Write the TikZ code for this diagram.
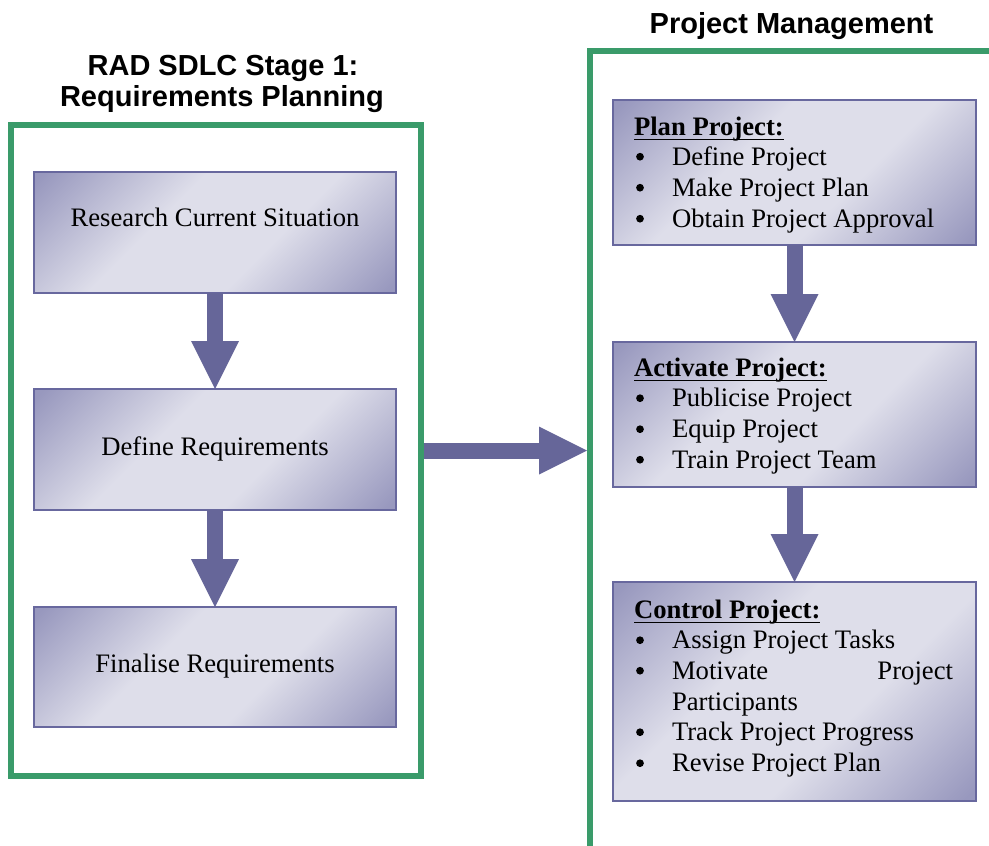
\documentclass[tikz,border=0pt]{standalone}
\usepackage{fontspec}
\setmainfont{Liberation Serif}
\newfontfamily\headfont{Liberation Sans}
\usetikzlibrary{calc}

\definecolor{framegreen}{RGB}{58,155,106}
\definecolor{arrowc}{RGB}{102,102,153}
\definecolor{boxedge}{RGB}{104,104,158}
\definecolor{boxdark}{RGB}{152,152,190}
\definecolor{boxlight}{RGB}{222,222,234}

% diagonal sheen of the step boxes: dark corners, light middle band
\pgfdeclarehorizontalshading{boxshade}{100bp}{%
  color(0bp)=(boxdark); color(16bp)=(boxdark); color(40bp)=(boxlight);
  color(60bp)=(boxlight); color(84bp)=(boxdark); color(100bp)=(boxdark)}

\tikzset{
  frame/.style={draw=framegreen, line width=4.5pt, rectangle, inner sep=0pt},
  stepbox/.style={rectangle, draw=boxedge, line width=1.4pt, shading=boxshade,
    shading angle=-45, inner sep=0pt, outer sep=0pt},
  wide/.style={stepbox, minimum width=271.5pt},
  txt/.style={inner sep=0pt, outer sep=0pt, anchor=base,
    font=\fontsize{20pt}{24pt}\selectfont},
  item/.style={txt, anchor=base west},
  dot/.style={circle, fill=black, inner sep=0pt, minimum size=5.8pt},
  head/.style={txt, anchor=base west, font=\fontsize{20pt}{24pt}\selectfont\bfseries},
  ttl/.style={inner sep=0pt, anchor=base,
    font=\headfont\bfseries\fontsize{21.75pt}{26pt}\selectfont},
  shaft/.style={draw=arrowc, line width=12pt},
  uline/.style={draw=black, line width=1.4pt}
}

% fat block arrow pointing down from one box to the next
\newcommand\fatdown[2]{%
  \draw[shaft] (#1.south) -- ($(#2.north)+(0,-47)$);
  \fill[arrowc] ($(#2.north)+(-24,-48)$) -- ($(#2.north)+(24,-48)$)
    -- (#2.north) -- cycle;}

% underline a heading node
\newcommand\headline[1]{%
  \draw[uline] ([yshift=-3.4pt]#1.base west) -- ([yshift=-3.4pt]#1.base east);}

% list bullet sitting beside the item whose baseline is #2
\newcommand\bulletat[2]{\node[dot] (#1) at (640,#2-8.3) {};}

\begin{document}
\begin{tikzpicture}[x=0.75pt, y=-0.75pt]
\path[use as bounding box] (0,0) rectangle (989,846);

% ---- left column: requirements planning ----
\node[ttl] (t1a) at (223,75) {RAD SDLC Stage 1:};
\node[ttl] (t1b) at (222,106) {Requirements Planning};
\node[frame, minimum width=307.5pt, minimum height=488.25pt] (lframe) at (215.5,450.5) {};

\node[wide, minimum height=90.75pt] (b1) at (215,232.5) {};
\node[wide, minimum height=90.75pt] (b2) at (215,449.5) {};
\node[wide, minimum height=90pt] (b3) at (215,667) {};

\node[txt] (b1t) at (215,226.7) {Research Current Situation};
\node[txt] (b2t) at (215,455) {Define Requirements};
\node[txt] (b3t) at (215,672.5) {Finalise Requirements};

\fatdown{b1}{b2}
\fatdown{b2}{b3}

% ---- right column: project management ----
\node[ttl] (t2) at (791.5,33) {Project Management};
\begin{scope}
  \clip (0,0) rectangle (989,846);
  \node[frame, minimum width=382.5pt, minimum height=598.9pt] (rframe) at (845,450.75) {};
\end{scope}

\node[stepbox, minimum width=272.25pt, minimum height=108.75pt] (p1) at (794.5,172.5) {};
\node[stepbox, minimum width=272.25pt, minimum height=108.75pt] (p2) at (794.5,414.5) {};
\node[stepbox, minimum width=272.25pt, minimum height=164.25pt] (p3) at (794.5,691.5) {};

% Plan Project
\node[head] (h1) at (634,135) {Plan Project:};
\headline{h1}
\bulletat{d11}{165}
\node[item] (i11) at (672,165) {Define Project};
\bulletat{d12}{196}
\node[item] (i12) at (672,196) {Make Project Plan};
\bulletat{d13}{227}
\node[item] (i13) at (672,227) {Obtain Project Approval};

% Activate Project
\node[head] (h2) at (634,376) {Activate Project:};
\headline{h2}
\bulletat{d21}{406.5}
\node[item] (i21) at (672,406.5) {Publicise Project};
\bulletat{d22}{437.5}
\node[item] (i22) at (672,437.5) {Equip Project};
\bulletat{d23}{468}
\node[item] (i23) at (672,468) {Train Project Team};

% Control Project
\node[head] (h3) at (634,618) {Control Project:};
\headline{h3}
\bulletat{d31}{648.5}
\node[item] (i31) at (672,648.5) {Assign Project Tasks};
\bulletat{d32}{679}
\node[item] (i32) at (672,679) {\makebox[210.75pt][s]{Motivate\hfill Project}};
\node[item] (i32b) at (672,710) {Participants};
\bulletat{d33}{740.5}
\node[item] (i33) at (672,740.5) {Track Project Progress};
\bulletat{d34}{771.5}
\node[item] (i34) at (672,771.5) {Revise Project Plan};

\fatdown{p1}{p2}
\fatdown{p2}{p3}

% ---- hand-over arrow between the two stages ----
\coordinate (tip) at (rframe.west |- lframe.east);
\draw[shaft] (lframe.east) -- ($(tip)+(-47,0)$);
\fill[arrowc] ($(tip)+(-48,-24)$) -- ($(tip)+(-48,24)$) -- (tip) -- cycle;
\end{tikzpicture}
\end{document}
